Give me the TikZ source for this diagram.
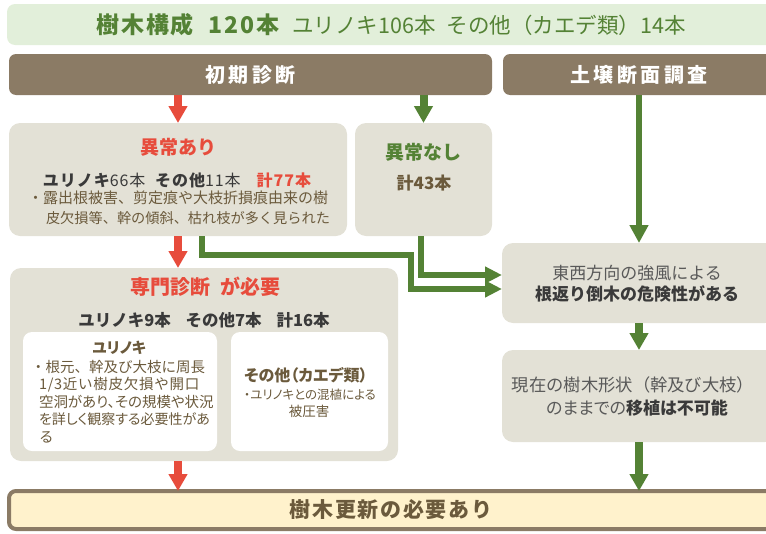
\documentclass[tikz,border=0pt]{standalone}
\usepackage{fontspec}
\setmainfont{Noto Sans CJK JP}
\usetikzlibrary{arrows.meta}
\definecolor{bargreen}{HTML}{E2EFDA}
\definecolor{dgreen}{HTML}{548235}
\definecolor{hbrown}{HTML}{8B7B65}
\definecolor{boxgray}{HTML}{E3E1D6}
\definecolor{ared}{HTML}{E74C3C}
\definecolor{tbrown}{HTML}{6B5A3C}
\definecolor{tdark}{HTML}{3A3A3A}
\definecolor{tgray}{HTML}{595959}
\definecolor{cream}{HTML}{FFF2CC}
\newcommand{\fs}[1]{\fontsize{#1}{#1}\selectfont}
\newcommand{\pa}{\addfontfeature{RawFeature=+palt}}
\newcommand{\ls}[1]{\addfontfeature{LetterSpace=#1}}
\begin{document}
\begin{tikzpicture}[x=1pt,y=-1pt,
  boxbase/.style={inner sep=0pt, outer sep=0pt},
  topbar/.style={boxbase, rounded corners=8pt, fill=bargreen},
  header/.style={boxbase, rounded corners=7pt, fill=hbrown, text=white, font=\fs{20}\bfseries\ls{17}},
  graybox/.style={boxbase, rounded corners=11pt, fill=boxgray},
  whitebox/.style={boxbase, rounded corners=9pt, fill=white},
  finbox/.style={boxbase, rounded corners=7pt, fill=cream, draw=hbrown, line width=4pt, text=tbrown, font=\fs{21}\bfseries\ls{8}},
  txt/.style={inner sep=0pt, outer sep=0pt},
  redarrow/.style={draw=ared, line width=8pt, -{Triangle[width=18pt,length=17pt]}},
  greenarrow/.style={draw=dgreen, line width=8pt, -{Triangle[width=18pt,length=17pt]}},
  greenlong/.style={draw=dgreen, line width=5.5pt, -{Triangle[width=18pt,length=18pt]}},
  greenpath/.style={draw=dgreen, line width=6pt, -{Triangle[width=16pt,length=17pt]}}
]
\useasboundingbox (0,0) rectangle (766,533);
\clip (0,0) rectangle (766,533);

% boxes
\node[topbar, minimum width=768pt, minimum height=41pt] (top) at (391,24.5) {};
\node[header, minimum width=483pt, minimum height=41pt] (h1) at (250.5,74.5) {初期診断};
\node[header, minimum width=272pt, minimum height=41pt] (h2) at (639,74.5) {土壌断面調査};
\node[graybox, minimum width=338pt, minimum height=113pt] (ab) at (178,179.5) {};
\node[graybox, minimum width=137pt, minimum height=113pt] (nn) at (423.5,179.5) {};
\node[graybox, minimum width=388pt, minimum height=193pt] (sm) at (204,364.5) {};
\node[whitebox, minimum width=194pt, minimum height=119pt] (w1) at (120,391.5) {};
\node[whitebox, minimum width=157pt, minimum height=119pt] (w2) at (309.5,391.5) {};
\node[graybox, minimum width=274pt, minimum height=80pt] (tz) at (639,283) {};
\node[graybox, minimum width=274pt, minimum height=92pt] (gz) at (639,396) {};
\node[finbox, minimum width=764pt, minimum height=38pt] (fin) at (391,510) {樹木更新の必要あり};

% texts
\node[txt, text=dgreen] (ttl) at (391,25) {{\fs{23}\bfseries\ls{8}樹木構成\hspace{15pt}120本}\hspace{13pt}{\fs{21.5}ユリノキ106本\hspace{11pt}その他（カエデ類）14本}};

\node[txt, text=ared, font=\fs{19}\bfseries] (abt) at (178,147) {異常あり};
\node[txt, text=tdark, font=\fs{16}\ls{6}] (abl) at (177,180) {{\bfseries ユリノキ}66本\hspace{0.6em}{\bfseries その他}11本\hspace{1em}{\color{ared}\bfseries 計77本}};
\node[txt, text=tbrown, font=\fs{15}, anchor=west] (ab1) at (28,198) {・露出根被害、剪定痕や大枝折損痕由来の樹};
\node[txt, text=tbrown, font=\fs{14.2}, anchor=west] (ab2) at (46,218) {皮欠損等、幹の傾斜、枯れ枝が多く見られた};

\node[txt, text=dgreen, font=\fs{19}\bfseries] (nnt) at (423.5,152) {異常なし};
\node[txt, text=tbrown, font=\fs{17}\bfseries] (nnl) at (424,183) {計43本};

\node[txt, text=ared, font=\fs{20}\bfseries] (smt) at (205,287) {専門診断\hspace{0.5em}が必要};
\node[txt, text=tdark, font=\fs{16.5}\bfseries] (sml) at (204,320) {ユリノキ9本\hspace{0.9em}その他7本\hspace{0.9em}計16本};

\node[txt, text=tbrown, font=\fs{15}\bfseries\pa] (w1t) at (119,348) {ユリノキ};
\node[txt, text=tbrown, font=\fs{14.5}, anchor=west] (w1a) at (31,367) {・根元、幹及び大枝に周長};
\node[txt, text=tbrown, font=\fs{14.5}\ls{5}, anchor=west] (w1b) at (39,385) {1/3近い樹皮欠損や開口};
\node[txt, text=tbrown, font=\fs{14.5}\pa, anchor=west] (w1c) at (39,402) {空洞があり、その規模や状況};
\node[txt, text=tbrown, font=\fs{14}\pa, anchor=west] (w1d) at (39,419) {を詳しく観察する必要性があ};
\node[txt, text=tbrown, font=\fs{14.5}, anchor=west] (w1e) at (39,437) {る};

\node[txt, text=tbrown, font=\fs{16}\bfseries\pa] (w2t) at (306,375) {その他（カエデ類）};
\node[txt, text=tbrown, font=\fs{12.5}\pa] (w2a) at (310,395) {・ユリノキとの混植による};
\node[txt, text=tbrown, font=\fs{13.5}] (w2b) at (309,411) {被圧害};

\node[txt, text=tgray, font=\fs{17}] (tz1) at (637,273) {東西方向の強風による};
\node[txt, text=tdark, font=\fs{17}\bfseries] (tz2) at (637,294) {根返り倒木の危険性がある};

\node[txt, text=tgray, font=\fs{17.3}] (gz1) at (633,385) {現在の樹木形状（幹及び大枝）};
\node[txt, text=tgray, font=\fs{17}\pa] (gz2) at (637,408) {のままでの{\color{tdark}\bfseries 移植は不可能}};

% connectors
\draw[redarrow] (h1.south -| ab.north) -- (ab.north);
\draw[greenarrow] (h1.south -| nn.north) -- (nn.north);
\draw[greenlong] (h2.south) -- (tz.north);
\draw[redarrow] (ab.south) -- (ab.south |- sm.north);
\draw[redarrow] (ab.south |- sm.south) -- (ab.south |- fin.north);
\draw[greenarrow] (tz.south) -- (gz.north);
\draw[greenarrow] (gz.south) -- (gz.south |- fin.north);

\coordinate (a1) at (201.5,255);
\coordinate (a2) at (411,255);
\coordinate (a3) at (411,289);
\coordinate (b1) at (421,275);
\draw[greenpath] ([xshift=23.5pt]ab.south) -- (a1) -- (a2) -- (a3) -- (a3 -| tz.west);
\draw[greenpath] (nn.south -| b1) -- (b1) -- (b1 -| tz.west);
\end{tikzpicture}
\end{document}
